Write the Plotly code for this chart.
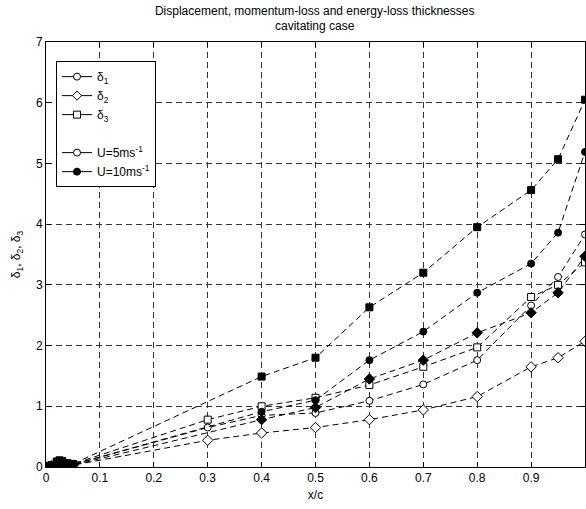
import plotly.graph_objects as go

# ---- data ----
x_main = [0.3, 0.4, 0.5, 0.6, 0.7, 0.8, 0.9, 0.95, 1.0]
x_near = [0.0, 0.01, 0.02, 0.03, 0.04, 0.05]

# U = 5 m/s (open markers)
u5_d1_near = [0.0, 0.02, 0.04, 0.06, 0.05, 0.04]
u5_d2_near = [0.0, 0.01, 0.03, 0.04, 0.03, 0.03]
u5_d3_near = [0.0, 0.02, 0.05, 0.07, 0.06, 0.05]
u5_d1 = [0.65, 0.85, 0.89, 1.09, 1.36, 1.76, 2.66, 3.13, 3.83]
u5_d2 = [0.44, 0.56, 0.65, 0.78, 0.94, 1.16, 1.65, 1.80, 2.07]
u5_d3 = [0.78, 1.00, 1.14, 1.35, 1.65, 1.97, 2.80, 3.00, 3.37]

# U = 10 m/s (filled markers)
x_main10 = [0.4, 0.5, 0.6, 0.7, 0.8, 0.9, 0.95, 1.0]
x_near10 = [0.0, 0.01, 0.02, 0.025, 0.03, 0.04, 0.05]
u10_d1_near = [0.0, 0.03, 0.08, 0.10, 0.09, 0.05, 0.04]
u10_d2_near = [0.0, 0.02, 0.06, 0.08, 0.07, 0.04, 0.03]
u10_d3_near = [0.0, 0.03, 0.09, 0.11, 0.10, 0.06, 0.05]
u10_d1 = [0.91, 1.10, 1.76, 2.23, 2.87, 3.35, 3.86, 5.19]
u10_d2 = [0.78, 0.98, 1.45, 1.76, 2.21, 2.54, 2.87, 3.47]
u10_d3 = [1.49, 1.80, 2.63, 3.20, 3.95, 4.56, 5.07, 6.05]

x_ticks = [0, 0.1, 0.2, 0.3, 0.4, 0.5, 0.6, 0.7, 0.8, 0.9, 1]
x_tick_text = ["0", "0.1", "0.2", "0.3", "0.4", "0.5", "0.6", "0.7", "0.8", "0.9", "1"]
y_ticks = [0, 1, 2, 3, 4, 5, 6, 7]

FONT = "Liberation Sans, Arial, sans-serif"
DASH = "6px,4px"

fig = go.Figure()

def add_series(xs, ys, symbol, fill, size):
    fig.add_trace(go.Scatter(
        x=xs, y=ys, mode="lines+markers", showlegend=False,
        line=dict(color="black", width=1, dash=DASH),
        marker=dict(symbol=symbol, size=size, color=fill,
                    line=dict(color="black", width=1)),
    ))

series = [
    (x_near + x_main, u5_d2_near + u5_d2, "diamond", "white", 8),
    (x_near + x_main, u5_d1_near + u5_d1, "circle", "white", 7),
    (x_near + x_main, u5_d3_near + u5_d3, "square", "white", 7),
    (x_near10 + x_main10, u10_d2_near + u10_d2, "diamond", "black", 8),
    (x_near10 + x_main10, u10_d1_near + u10_d1, "circle", "black", 7),
    (x_near10 + x_main10, u10_d3_near + u10_d3, "square", "black", 7),
]
for xs, ys, sym, fill, sz in series:
    add_series(xs, ys, sym, fill, sz)

# legend entries
legend_items = [
    ("δ<sub>1</sub>", "circle", "white", True),
    ("δ<sub>2</sub>", "diamond", "white", True),
    ("δ<sub>3</sub>", "square", "white", True),
    (" ", "circle", "rgba(0,0,0,0)", False),
    ("U=5ms<sup>-1</sup>", "circle", "white", True),
    ("U=10ms<sup>-1</sup>", "circle", "black", True),
]
for name, sym, fill, vis in legend_items:
    fig.add_trace(go.Scatter(
        x=[None], y=[None], mode="lines+markers", name=name,
        line=dict(color="black" if vis else "rgba(0,0,0,0)", width=1),
        marker=dict(symbol=sym, size=7, color=fill,
                    line=dict(color="black" if vis else "rgba(0,0,0,0)", width=1)),
    ))

axis_common = dict(
    showline=True, linecolor="black", linewidth=1, mirror="allticks",
    ticks="inside", ticklen=5, tickcolor="black",
    showgrid=True, gridcolor="#333333", gridwidth=1, griddash=DASH,
    zeroline=False, tickfont=dict(family=FONT, size=12, color="black"),
)

fig.update_layout(
    width=586, height=509,
    margin=dict(l=46, r=1, t=42, b=42),
    paper_bgcolor="white", plot_bgcolor="white",
    font=dict(family=FONT, size=12, color="black"),
    title=dict(text="Displacement, momentum-loss and energy-loss thicknesses<br>cavitating case",
               x=0.537, xanchor="center", y=0.971, yanchor="top",
               font=dict(family=FONT, size=12, color="black")),
    xaxis=dict(range=[0, 1], tickvals=x_ticks, ticktext=x_tick_text,
               title=dict(text="x/c", standoff=6, font=dict(family=FONT, size=12)),
               **axis_common),
    yaxis=dict(range=[0, 7], tickvals=y_ticks,
               title=dict(text="δ<sub>1</sub>, δ<sub>2</sub>, δ<sub>3</sub>", standoff=12,
                          font=dict(family=FONT, size=12)),
               **axis_common),
    legend=dict(x=0.0186, y=0.955, xanchor="left", yanchor="top",
                bgcolor="white", bordercolor="black", borderwidth=1,
                font=dict(family=FONT, size=12), itemwidth=30,
                tracegroupgap=0),
)

fig.write_html("out.html")
